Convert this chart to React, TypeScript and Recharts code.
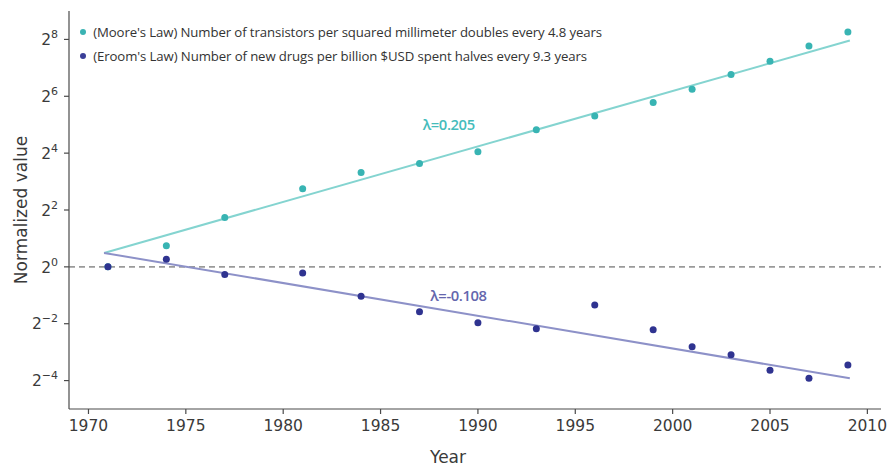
import React from 'react';
import {
  ComposedChart, XAxis, YAxis, Scatter, Line, ReferenceLine, ReferenceDot, Legend, Label,
} from 'recharts';

// Years of observations
const years = [1971, 1974, 1977, 1981, 1984, 1987, 1990, 1993, 1996, 1999, 2001, 2003, 2005, 2007, 2009];
// log2 of normalized value
const mooreLog2 = [0, 0.74, 1.74, 2.75, 3.32, 3.64, 4.05, 4.82, 5.31, 5.78, 6.25, 6.77, 7.23, 7.77, 8.26];
const eroomLog2 = [0, 0.27, -0.27, -0.22, -1.03, -1.58, -1.97, -2.18, -1.34, -2.21, -2.81, -3.09, -3.64, -3.92, -3.45];

// Fitted regression lines (log2)
const fitYears = [1970.8, 2009.1];
const mooreFitLog2 = [0.49, 7.96];
const eroomFitLog2 = [0.49, -3.92];

const xTicks = [1970, 1975, 1980, 1985, 1990, 1995, 2000, 2005, 2010];
const yTicks = [-4, -2, 0, 2, 4, 6, 8];
const xDomain = [1969, 2010.7];
const yDomain = [-5, 9];

const mooreLabel = 'λ=0.205';
const eroomLabel = 'λ=-0.108';
const mooreLabelPos = { x: 1988.5, y: 5.0 };
const eroomLabelPos = { x: 1989, y: -1.0 };

const legendItems = [
  { name: "(Moore's Law) Number of transistors per squared millimeter doubles every 4.8 years", color: '#3ab3b3' },
  { name: "(Eroom's Law) Number of new drugs per billion $USD spent halves every 9.3 years", color: '#3b3f98' },
];

const TEAL_PT = '#38b4b3';
const TEAL_LINE = '#84d4d0';
const NAVY_PT = '#2f3390';
const NAVY_LINE = '#8d91c8';
const AXIS = '#4a4a4a';
const TXT = '#3a3a3a';

const mooreData = years.map((x, i) => ({ x, y: mooreLog2[i] }));
const eroomData = years.map((x, i) => ({ x, y: eroomLog2[i] }));
const mooreFit = fitYears.map((x, i) => ({ x, y: mooreFitLog2[i] }));
const eroomFit = fitYears.map((x, i) => ({ x, y: eroomFitLog2[i] }));

const FONT = 'DejaVu Sans, sans-serif';

const XTick = (props: any) => {
  const { x, y, payload } = props;
  return (
    <text x={x} y={y} dy="0.71em" textAnchor="middle" fontFamily={FONT} fontSize={15.5} fill={TXT}>
      {payload.value}
    </text>
  );
};

const YTick = (props: any) => {
  const { x, y, payload } = props;
  const v = payload.value;
  const exp = v < 0 ? '\u2212' + Math.abs(v) : String(v);
  return (
    <text x={x} y={y} dy="0.36em" textAnchor="end" fontFamily={FONT} fill={TXT}>
      <tspan fontSize={15.5}>2</tspan>
      <tspan fontSize={11} dy={-7}>{exp}</tspan>
    </text>
  );
};

const renderLegend = () => (
  <div style={{ fontFamily: '"Open Sans", sans-serif', fontSize: 13.2, color: '#333', letterSpacing: -0.1 }}>
    {legendItems.map((it) => (
      <div key={it.name} style={{ display: 'flex', alignItems: 'center', height: 24, whiteSpace: 'nowrap' }}>
        <span style={{ display: 'inline-block', width: 6, height: 6, borderRadius: 3, background: it.color, marginRight: 7.5 }} />
        <span>{it.name}</span>
      </div>
    ))}
  </div>
);

const dot = (color: string) => (p: any) => <circle cx={p.cx} cy={p.cy} r={3.5} fill={color} />;

const lambdaLabel = (text: string, color: string) => (p: any) => {
  const vb = p.viewBox || {};
  const cx = (vb.x ?? 0) + (vb.width ?? 0) / 2;
  const cy = (vb.y ?? 0) + (vb.height ?? 0) / 2;
  return (
    <text x={cx} y={cy} dy="0.36em" textAnchor="middle" fontFamily='"Open Sans", sans-serif'
      fontWeight={600} fontSize={14.8} letterSpacing={-0.4} fill={color}>
      {text}
    </text>
  );
};

export default function App() {
  return (
    <div style={{ width: 890, height: 466 }}>
      <style>{`html, body { margin: 0; padding: 0; overflow: hidden; } #root { width: 890px; height: 466px; }`}</style>
      <ComposedChart width={890} height={466} margin={{ top: 11, right: 9, bottom: 0, left: 8 }}>
        <XAxis xAxisId={0} dataKey="x" type="number" domain={xDomain} ticks={xTicks} allowDataOverflow
          height={57} tick={<XTick />} tickSize={5} tickMargin={6}
          axisLine={{ stroke: AXIS, strokeWidth: 1.2 }} tickLine={{ stroke: AXIS, strokeWidth: 1.2 }}>
          <Label content={(p: any) => {
            const vb = p.viewBox;
            return (
              <text x={vb.x + vb.width / 2 - 27} y={vb.y + 54} textAnchor="middle" fontFamily={FONT} fontSize={17} fill={TXT}>Year</text>
            );
          }} />
        </XAxis>
        <XAxis xAxisId="top" orientation="top" type="number" domain={xDomain} allowDataOverflow height={0}
          tick={false} tickLine={false} axisLine={{ stroke: AXIS, strokeWidth: 1.2 }} />
        <YAxis yAxisId={0} type="number" domain={yDomain} ticks={yTicks} allowDataOverflow width={61}
          tick={<YTick />} tickSize={5} tickMargin={6}
          axisLine={{ stroke: AXIS, strokeWidth: 1.2 }} tickLine={{ stroke: AXIS, strokeWidth: 1.2 }}>
          <Label content={(p: any) => {
            const vb = p.viewBox;
            const cy = vb.y + vb.height / 2;
            const lx = vb.x + 19;
            return (
              <text x={lx} y={cy} transform={`rotate(-90, ${lx}, ${cy})`} textAnchor="middle" fontFamily={FONT} fontSize={17} fill={TXT}>
                Normalized value
              </text>
            );
          }} />
        </YAxis>
        <YAxis yAxisId="right" orientation="right" type="number" domain={yDomain} allowDataOverflow width={0}
          tick={false} tickLine={false} axisLine={{ stroke: AXIS, strokeWidth: 1.2 }} />
        <ReferenceLine y={0} stroke="#9a9a9a" strokeWidth={1.6} strokeDasharray="6 4" />
        <Line data={mooreFit} dataKey="y" stroke={TEAL_LINE} strokeWidth={2} dot={false} isAnimationActive={false} legendType="none" />
        <Line data={eroomFit} dataKey="y" stroke={NAVY_LINE} strokeWidth={2} dot={false} isAnimationActive={false} legendType="none" />
        <Scatter data={mooreData} dataKey="y" fill={TEAL_PT} shape={dot(TEAL_PT)} isAnimationActive={false} />
        <Scatter data={eroomData} dataKey="y" fill={NAVY_PT} shape={dot(NAVY_PT)} isAnimationActive={false} />
        <ReferenceDot x={mooreLabelPos.x} y={mooreLabelPos.y} r={0} stroke="none" fill="none"
          label={lambdaLabel(mooreLabel, '#45bcbb')} />
        <ReferenceDot x={eroomLabelPos.x} y={eroomLabelPos.y} r={0} stroke="none" fill="none"
          label={lambdaLabel(eroomLabel, '#6466ad')} />
        <Legend layout="vertical" verticalAlign="middle" align="center" content={renderLegend}
          wrapperStyle={{ top: 19.5, left: 79.7, width: 'auto', height: 'auto' }} />
      </ComposedChart>
    </div>
  );
}
